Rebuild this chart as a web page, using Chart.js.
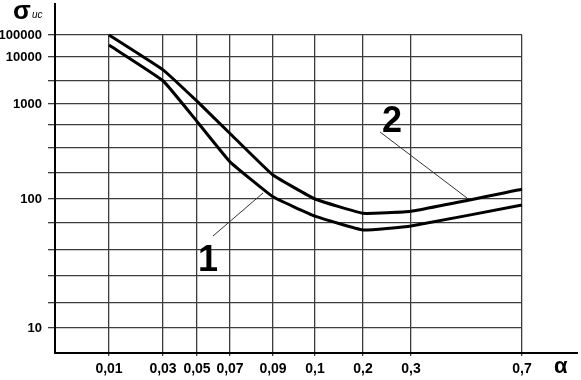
<!DOCTYPE html>
<html>
<head>
<meta charset="utf-8">
<script src="https://cdn.jsdelivr.net/npm/chart.js@4.4.1/dist/chart.umd.min.js"></script>
<style>
  html,body{margin:0;padding:0;background:#fff;}
  #wrap{width:581px;height:380px;position:relative;}
</style>
</head>
<body>
<div id="wrap"><canvas id="ch"></canvas></div>
<script>
/* ── data ── */
const ALPHA        = [0.01, 0.03, 0.05, 0.07, 0.09, 0.1, 0.2, 0.3, 0.7];
const ALPHA_LABELS = ['0,01','0,03','0,05','0,07','0,09','0,1','0,2','0,3','0,7'];
const SIGMA_1      = [35000, 3200, 620, 230, 105, 72, 56, 60, 89];     // curve 1 (lower)
const SIGMA_2      = [100000, 5400, 1150, 455, 170, 100, 76, 79, 124]; // curve 2 (upper)
const SIGMA_TICKS  = [10, 100, 1000, 10000, 100000];
const SIGMA_LABELS = ['10','100','1000','10000','100000'];

/* ── hand drawn axis layout (non uniform scales) ── */
const X_GRID = [54, 108, 142, 175, 218, 260, 308, 356, 467];          // where each α line sits on the axis
const Y_GRID = [0, 25, 50, 77, 103, 130, 154, 180, 205, 228, 249, 272, 296, 318]; // horizontal rules
const SIGMA_LINE = [1, 6, 10, 12, 13];                                  // rule index of each σ label

function toX(a) {
    let k=ALPHA.length-2;
    for (let i=0;i<ALPHA.length-1;i++) if (a<=ALPHA[i+1]) {k=i;break;}
    const f=(a-ALPHA[k])/(ALPHA[k+1]-ALPHA[k]);
    return X_GRID[k]+f*(X_GRID[k+1]-X_GRID[k]);
}

function toY(s) {
    const lg=Math.log10(s);
    let k=SIGMA_TICKS.length-2;
    for (let i=0;i<SIGMA_TICKS.length-1;i++) if (lg<=Math.log10(SIGMA_TICKS[i+1])) {k=i;break;}
    const l0=Math.log10(SIGMA_TICKS[k]), l1=Math.log10(SIGMA_TICKS[k+1]);
    const idx=SIGMA_LINE[k]+(lg-l0)/(l1-l0)*(SIGMA_LINE[k+1]-SIGMA_LINE[k]);
    const f=Math.min(Math.max(Math.floor(idx),0),Y_GRID.length-2);
    return Y_GRID[f]+(idx-f)*(Y_GRID[f+1]-Y_GRID[f]);
}

const FONT='"Liberation Sans", Arial, sans-serif';
const GRID='#3c3c3c';

// axis ends, σ/α titles and the "1" / "2" callouts
const decor={
    id:'decor',
    afterDraw(chart){
        const {ctx,chartArea:a,scales:{x,y}}=chart;
        ctx.save();
        ctx.strokeStyle='#000'; ctx.lineWidth=2;
        ctx.beginPath();
        ctx.moveTo(a.left,a.top); ctx.lineTo(a.left,3);
        ctx.moveTo(a.right,a.bottom); ctx.lineTo(578,a.bottom);
        ctx.stroke();

        ctx.fillStyle='#000';
        ctx.textBaseline='alphabetic';
        ctx.font='bold 26px '+FONT;
        ctx.fillText('σ',13,19);
        ctx.font='italic 10px '+FONT;
        ctx.fillText('ис',32,18);
        ctx.font='bold 22px '+FONT;
        ctx.fillText('α',554,373);

        // callouts
        ctx.strokeStyle='#333'; ctx.lineWidth=1;
        ctx.beginPath();
        ctx.moveTo(x.getPixelForValue(158),y.getPixelForValue(117));
        ctx.lineTo(x.getPixelForValue(208),y.getPixelForValue(160));
        ctx.moveTo(x.getPixelForValue(325),y.getPixelForValue(221));
        ctx.lineTo(x.getPixelForValue(412),y.getPixelForValue(155));
        ctx.stroke();
        ctx.font='bold 36px '+FONT;
        ctx.textAlign='center';
        ctx.fillText('1',x.getPixelForValue(153),y.getPixelForValue(82));
        ctx.fillText('2',x.getPixelForValue(337),y.getPixelForValue(221));
        ctx.restore();
    }
};

const series=(vals)=>ALPHA.map((a,i)=>({x:toX(a),y:toY(vals[i])}));

new Chart(document.getElementById('ch').getContext('2d'),{
    type:'line',
    data:{datasets:[
        {label:'1',data:series(SIGMA_1),borderColor:'#000',borderWidth:3,pointRadius:0,tension:0.1,fill:false,clip:false},
        {label:'2',data:series(SIGMA_2),borderColor:'#000',borderWidth:3,pointRadius:0,tension:0.1,fill:false,clip:false}
    ]},
    options:{
        responsive:true,
        maintainAspectRatio:false,
        animation:false,
        layout:{padding:{left:0,top:35,right:59,bottom:0}},
        plugins:{legend:{display:false},tooltip:{enabled:false}},
        scales:{
            x:{
                type:'linear',min:0,max:X_GRID[X_GRID.length-1],
                afterBuildTicks:s=>{s.ticks=X_GRID.map(v=>({value:v}));},
                afterFit:s=>{s.height=27;},
                ticks:{autoSkip:false,maxRotation:0,padding:5,color:'#000',
                    font:{family:FONT,size:14,weight:'bold'},
                    callback:(v,i)=>ALPHA_LABELS[i]},
                grid:{color:GRID,lineWidth:1.3,tickLength:3},
                border:{color:'#000',width:2}
            },
            y:{
                type:'linear',min:0,max:Y_GRID[Y_GRID.length-1],
                afterBuildTicks:s=>{s.ticks=Y_GRID.map(v=>({value:v}));},
                afterFit:s=>{s.width=55;},
                ticks:{autoSkip:false,padding:6,color:'#000',
                    font:{family:FONT,size:13,weight:'bold'},
                    callback:(v,i)=>{const k=SIGMA_LINE.indexOf(i);return k<0?'':SIGMA_LABELS[k];}},
                grid:{color:c=>c.index===0?'rgba(0,0,0,0)':GRID,lineWidth:1.3,tickLength:7},
                border:{color:'#000',width:2}
            }
        }
    },
    plugins:[decor]
});
</script>
</body>
</html>
